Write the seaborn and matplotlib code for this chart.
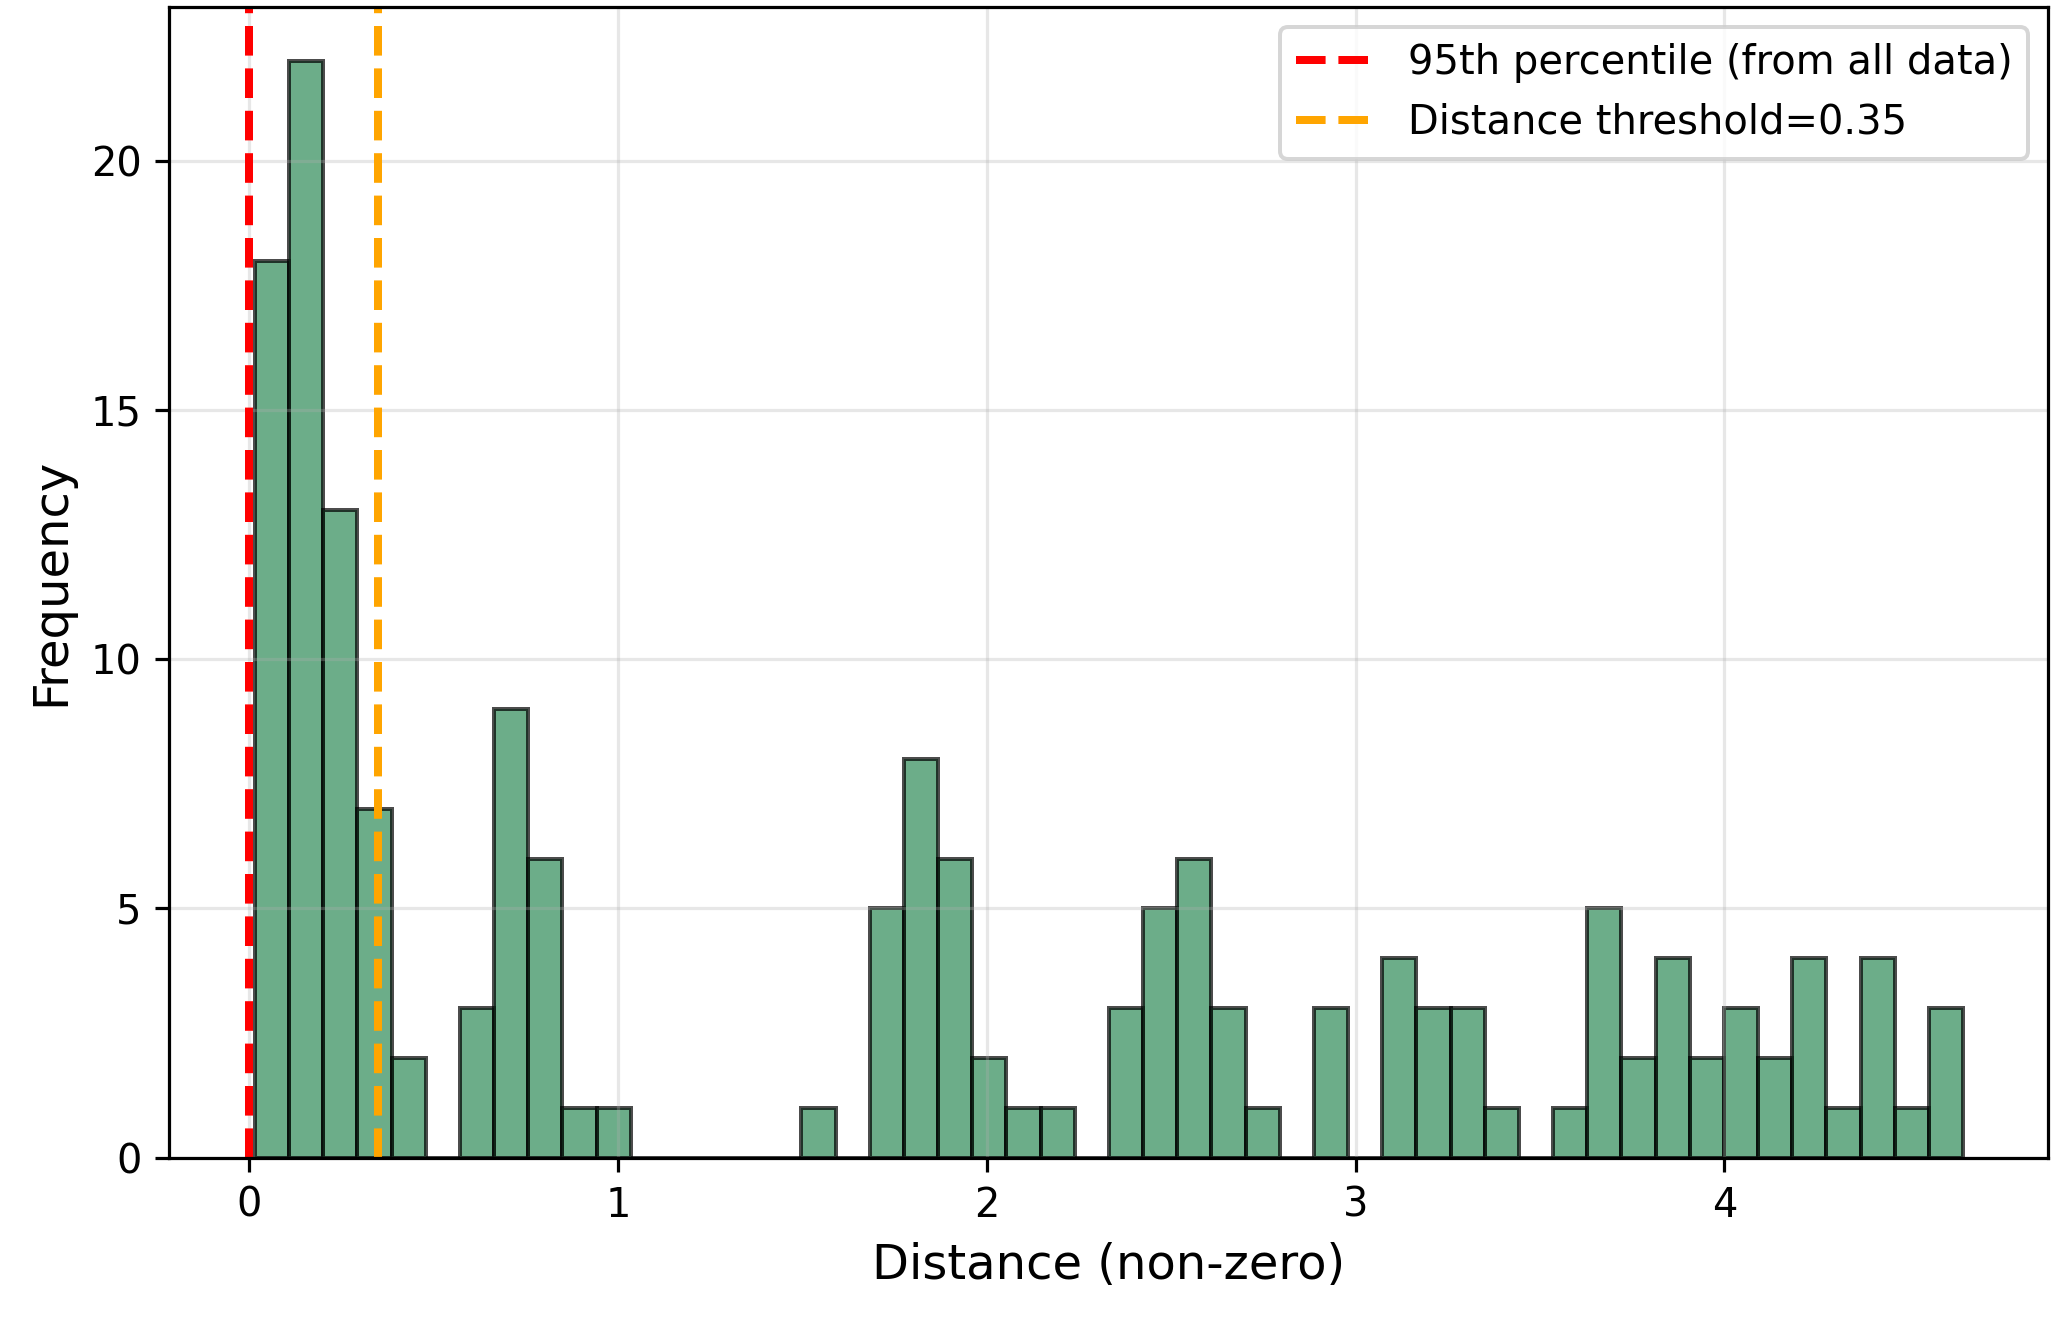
import numpy as np
import pandas as pd
import matplotlib
matplotlib.use('Agg')
import matplotlib.pyplot as plt
import seaborn as sns

# Histogram counts (50 equal bins)
bin_lo = 0.016
bin_hi = 4.647
counts = [18, 22, 13, 7, 2, 0, 3, 9, 6, 1,
          1, 0, 0, 0, 0, 0, 1, 0, 5, 8,
          6, 2, 1, 1, 0, 3, 5, 6, 3, 1,
          0, 3, 0, 4, 3, 3, 1, 0, 1, 5,
          2, 4, 2, 3, 2, 4, 1, 4, 1, 3]
pct95 = 0.0
threshold = 0.35

edges = np.linspace(bin_lo, bin_hi, len(counts) + 1)
centers = (edges[:-1] + edges[1:]) / 2
df = pd.DataFrame({'distance': centers, 'count': counts})

plt.rcParams['font.family'] = ['DejaVu Sans']

# dpi 288 so default font sizes come out at the reference scale
fig, ax = plt.subplots(figsize=(2067 / 288, 1317 / 288), dpi=288)
fig.subplots_adjust(left=0.082, right=0.991, top=0.995, bottom=0.121)

sns.histplot(data=df, x='distance', weights='count', bins=list(edges),
             color='seagreen', alpha=0.7, edgecolor=(0, 0, 0, 0.7), linewidth=1,
             ax=ax)
ax.axvline(pct95, color='red', linestyle='--', linewidth=2,
           label='95th percentile (from all data)')
ax.axvline(threshold, color='orange', linestyle='--', linewidth=2,
           label=f'Distance threshold={threshold}')

ax.set_xlabel('Distance (non-zero)', fontsize=12)
ax.set_ylabel('Frequency', fontsize=12)
ax.grid(True, alpha=0.3)
ax.legend(loc='upper right')

plt.savefig('out.png', dpi=288)
